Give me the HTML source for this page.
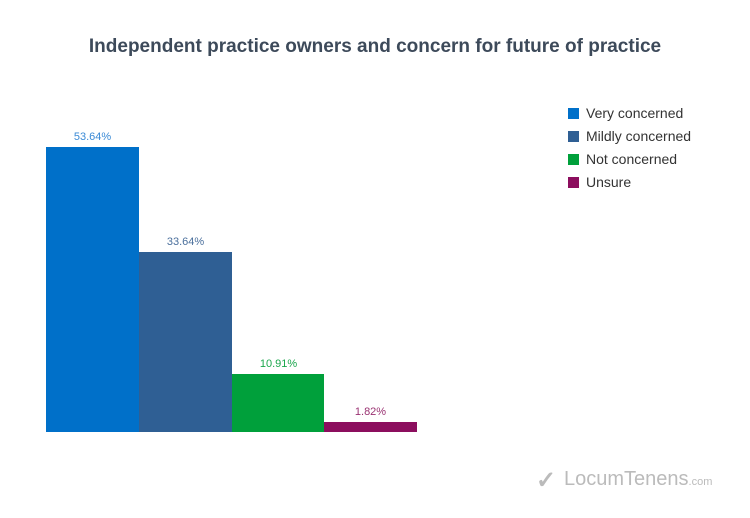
<!DOCTYPE html><html><head><style>
body{margin:0;width:750px;height:518px;background:#fff;position:relative;font-family:"Liberation Sans",sans-serif;overflow:hidden}
div{position:absolute}
.t{left:0;width:750px;top:36px;text-align:center;font-weight:bold;font-size:19px;color:#3d4a5a}
.b{bottom:86px}
.l{font-size:11px;text-align:center;width:93px}
.sq{width:11px;height:11px;left:568px}
.lt{left:586px;font-size:14px;color:#333}
</style></head><body>
<div class="t">Independent practice owners and concern for future of practice</div>
<div class="b" style="left:46px;width:93px;top:147px;height:285px;background:#0070c9"></div>
<div class="b" style="left:139px;width:93px;top:252px;height:180px;background:#2f5f94"></div>
<div class="b" style="left:232px;width:92px;top:374px;height:58px;background:#00a03b"></div>
<div class="b" style="left:324px;width:93px;top:422px;height:10px;background:#8c0e5e"></div>
<div class="l" style="left:46px;top:131px;color:#3a8ad6">53.64%</div>
<div class="l" style="left:139px;top:236px;color:#4a6f9c">33.64%</div>
<div class="l" style="left:232px;top:358px;color:#1aa64c">10.91%</div>
<div class="l" style="left:324px;top:406px;color:#9a3272">1.82%</div>
<div class="sq" style="top:108px;background:#0070c9"></div><div class="lt" style="top:105px">Very concerned</div>
<div class="sq" style="top:131px;background:#2f5f94"></div><div class="lt" style="top:128px">Mildly concerned</div>
<div class="sq" style="top:154px;background:#00a03b"></div><div class="lt" style="top:151px">Not concerned</div>
<div class="sq" style="top:177px;background:#8c0e5e"></div><div class="lt" style="top:174px">Unsure</div>
<div style="left:536px;top:466px;font-size:24px;color:#bbb;font-weight:bold">✓</div>
<div style="left:564px;top:468px;font-size:20px;color:#bbb">LocumTenens<span style="font-size:11px">.com</span></div>
</body></html>
